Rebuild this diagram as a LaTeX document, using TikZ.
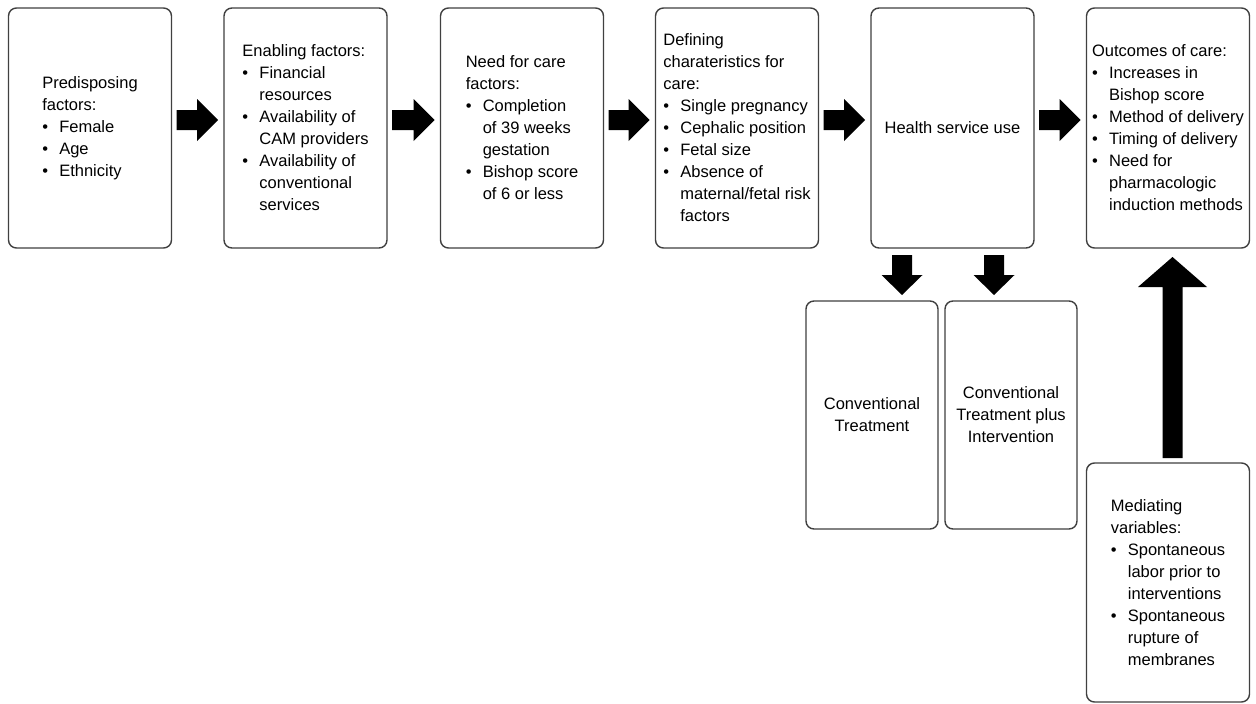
\documentclass[tikz,border=0pt]{standalone}
\usepackage{fontspec}
\setmainfont{Liberation Sans}
\usetikzlibrary{calc}
\newcommand\bul{\makebox[17pt][l]{•}}
\newcommand\ind{\hspace*{17pt}}
\newcommand\harr[2]{\fill[black] let \p1=($(#1.east)+(5,-8)$), \p2=($(#2.west)+(-6,-8)$) in
  (\x1,\y1+10pt) -- (\x2-21pt,\y1+10pt) -- (\x2-21pt,\y1+21pt) -- (\x2,\y1)
  -- (\x2-21pt,\y1-21pt) -- (\x2-21pt,\y1-10pt) -- (\x1,\y1-10pt) -- cycle;}
\begin{document}
\begin{tikzpicture}[x=1pt,y=-1pt,
  box/.style={draw=black!75, line width=1.4pt, rounded corners=8pt, align=left,
    font=\fontsize{16.5}{22}\selectfont, inner sep=0pt, outer sep=0pt,
    minimum width=163pt, minimum height=240pt},
  cbox/.style={box, align=center, minimum width=132pt, minimum height=228pt}]
\useasboundingbox (0,0) rectangle (1256,704);
\fill[white] (0,0) rectangle (1256,704);

\node[box] (pre) at (90,128) {Predisposing\\factors:\\\bul Female\\\bul Age\\\bul Ethnicity};
\node[box] (ena) at (305.5,128) {Enabling factors:\\\bul Financial\\\ind resources\\\bul Availability of\\\ind CAM providers\\\bul Availability of\\\ind conventional\\\ind services};
\node[box] (need) at (522,128) {Need for care\\factors:\\\bul Completion\\\ind of 39 weeks\\\ind gestation\\\bul Bishop score\\\ind of 6 or less};
\node[box] (def) at (737,128) {Defining\\charateristics for\\care:\\\bul Single pregnancy\\\bul Cephalic position\\\bul Fetal size\\\bul Absence of\\\ind maternal/fetal risk\\\ind factors};
\node[box] (hsu) at (952.5,128) {Health service use};
\node[box] (out) at (1168,128) {Outcomes of care:\\\bul Increases in\\\ind Bishop score\\\bul Method of delivery\\\bul Timing of delivery\\\bul Need for\\\ind pharmacologic\\\ind induction methods};
\node[cbox] (ct) at (872,415) {Conventional\\Treatment};
\node[cbox] (cti) at (1011,415) {Conventional\\Treatment plus\\Intervention};
\node[box, minimum height=239pt] (med) at (1168,582.5) {Mediating\\variables:\\\bul Spontaneous\\\ind labor prior to\\\ind interventions\\\bul Spontaneous\\\ind rupture of\\\ind membranes};

\harr{pre}{ena}
\harr{ena}{need}
\harr{need}{def}
\harr{def}{hsu}
\harr{hsu}{out}

% down arrows
\fill[black] let \p1=($(hsu.south)+(-50.5,7)$), \p2=($(ct.north)+(0,-6)$) in
  (\x1-10pt,\y1) -- (\x1-10pt,\y2+20pt) -- (\x1-20.5pt,\y2+20pt) -- (\x1,\y2)
  -- (\x1+20.5pt,\y2+20pt) -- (\x1+10pt,\y2+20pt) -- (\x1+10pt,\y1) -- cycle;
\fill[black] let \p1=($(hsu.south)+(41.5,7)$), \p2=($(cti.north)+(0,-6)$) in
  (\x1-10pt,\y1) -- (\x1-10pt,\y2+20pt) -- (\x1-20.5pt,\y2+20pt) -- (\x1,\y2)
  -- (\x1+20.5pt,\y2+20pt) -- (\x1+10pt,\y2+20pt) -- (\x1+10pt,\y1) -- cycle;
% up arrow
\fill[black] let \p1=($(med.north)+(4.5,-5)$), \p2=($(out.south)+(0,9)$) in
  (\x1-10pt,\y1) -- (\x1-10pt,\y2-30pt) -- (\x1-34.5pt,\y2-30pt) -- (\x1,\y2)
  -- (\x1+34.5pt,\y2-30pt) -- (\x1+10pt,\y2-30pt) -- (\x1+10pt,\y1) -- cycle;
\end{tikzpicture}
\end{document}
